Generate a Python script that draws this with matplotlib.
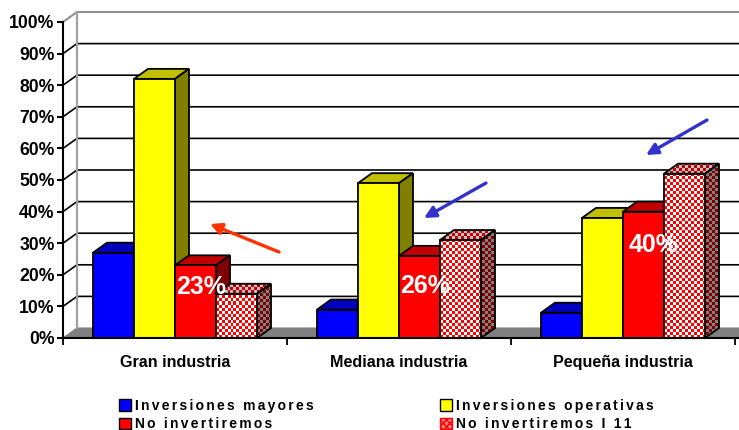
import numpy as np
import matplotlib
matplotlib.use('Agg')
import matplotlib.pyplot as plt
from matplotlib.patches import Polygon, Patch
from matplotlib.ticker import FuncFormatter

plt.rcParams['font.family'] = ['Liberation Sans', 'DejaVu Sans']

categorias = ['Gran industria', 'Mediana industria', 'Pequeña industria']
series = ['Inversiones mayores', 'Inversiones operativas', 'No invertiremos', 'No invertiremos I 11']
mayores = [27, 9, 8]
operativas = [82, 49, 38]
no_invertiremos = [23, 26, 40]
no_invertiremos_11 = [14, 31, 52]
valores = [mayores, operativas, no_invertiremos, no_invertiremos_11]
pct_ticks = list(range(0, 101, 10))

# frente, arriba, lado
colores = [('#0000ff', '#0000c0', '#000080'),
           ('#ffff00', '#c0c000', '#808000'),
           ('#ff0000', '#c00000', '#800000'),
           (None, None, None)]

W, H = 739, 430
PX_X = 224.0   # pixeles por categoria
PX_Y = 3.16    # pixeles por 1%
dx = 14 / PX_X
dy = 10 / PX_Y
ancho = 41 / PX_X
inicio = 30 / PX_X

fig = plt.figure(figsize=(W / 100, H / 100), dpi=100)
ax = fig.add_axes([63 / W, (H - 338) / H, (W - 63) / W, 338 / H])
xmax = (W - 63) / PX_X
ymax = 338 / PX_Y
ax.patch.set_alpha(0)


def tablero(c1, c2, zorder, clip):
    # cuadritos de 3 px, como el relleno del grafico original
    yy, xx = np.indices((338 // 3 + 1, (W - 63) // 3 + 1))
    celdas = (xx + yy) % 2
    rgb = np.array([matplotlib.colors.to_rgb(c1), matplotlib.colors.to_rgb(c2)])[celdas]
    im = ax.imshow(rgb, extent=[0, xmax, 0, ymax], aspect='auto', interpolation='nearest',
                   origin='lower', zorder=zorder)
    im.set_clip_path(clip)


# piso y paredes
ax.add_patch(Polygon([(0, 0), (dx, dy), (xmax + 1, dy), (xmax + 1, 0)], fc='#808080', ec='#808080', lw=0.8, zorder=1))
for p in pct_ticks[1:]:
    col = '#909090' if p == 100 else 'black'
    ax.plot([0, dx, xmax], [p, p + dy, p + dy], color=col, lw=1.5 if p == 100 else 1.2, zorder=1, clip_on=False)
ax.plot([dx, dx], [dy, 100 + dy], color='#a0a0a0', lw=1.6, zorder=1.5)

z = 3
for g in range(len(categorias)):
    for s in range(len(series)):
        v = valores[s][g]
        x0 = g + inicio + s * ancho
        x1 = x0 + ancho
        frente, arriba, lado = colores[s]
        top = Polygon([(x0, v), (x0 + dx, v + dy), (x1 + dx, v + dy), (x1, v)], closed=True,
                      ec='black', lw=1.3, zorder=z + 0.2)
        side = Polygon([(x1, 0), (x1 + dx, dy), (x1 + dx, v + dy), (x1, v)], closed=True,
                       ec='black', lw=1.3, zorder=z + 0.2)
        barra = ax.bar(x0, v, ancho, align='edge', edgecolor='black', linewidth=1.3, zorder=z + 0.4,
                       color=frente if frente else 'none')[0]
        if frente:
            top.set_facecolor(arriba)
            side.set_facecolor(lado)
            ax.add_patch(top)
            ax.add_patch(side)
        else:
            top.set_facecolor('none')
            side.set_facecolor('none')
            ax.add_patch(top)
            ax.add_patch(side)
            tablero('#c00000', '#c0c0c0', z + 0.1, top)
            tablero('#800000', '#808080', z + 0.1, side)
            tablero('#ff0000', '#ffffff', z + 0.3, barra)
        z += 1

ax.set_xlim(0, xmax)
ax.set_ylim(0, ymax)

# ejes
for lado in ['top', 'right']:
    ax.spines[lado].set_visible(False)
ax.spines['left'].set_bounds(0, 100)
ax.spines['left'].set_linewidth(1.5)
ax.spines['bottom'].set_linewidth(1.5)
ax.spines['left'].set_zorder(30)
ax.spines['bottom'].set_zorder(30)
ax.set_yticks(pct_ticks)
ax.yaxis.set_major_formatter(FuncFormatter(lambda p, _: '%d%%' % p))
ax.tick_params(axis='y', length=4, width=1.5, pad=2, labelsize=12.7)
for t in ax.get_yticklabels():
    t.set_fontweight('bold')
ax.set_xticks([0, 1, 2, 3])
ax.set_xticklabels([])
ax.set_xticks([0.5, 1.5, 2.5], minor=True)
ax.set_xticklabels(categorias, minor=True, fontweight='bold', fontsize=11.6)
ax.tick_params(axis='x', which='major', length=5, width=1.3)
ax.tick_params(axis='x', which='minor', length=0, pad=12)

# porcentajes sobre la barra roja
etiquetas_x = [0.615, 1.615, 2.635]
etiquetas_y = [16, 16.5, 29.5]
for i in range(3):
    ax.text(etiquetas_x[i], etiquetas_y[i], '%d%%' % no_invertiremos[i], color='white', fontsize=18,
            fontweight='bold', ha='center', va='center', zorder=40)

# flechas
flechas = [((279, 252), (210, 224), '#ff3300'),
           ((486, 183), (424, 218), '#3333cc'),
           ((707, 120), (646, 155), '#3333cc')]
for a, b, col in flechas:
    ax.annotate('', xy=(b[0], H - b[1]), xytext=(a[0], H - a[1]), xycoords='figure pixels',
                textcoords='figure pixels', zorder=41,
                arrowprops=dict(arrowstyle='-|>', color=col, lw=2.4, shrinkA=0, shrinkB=0, mutation_scale=17))

# leyenda, letras separadas con hair space como en el original
def espaciado(s):
    return '\u200a\u200a'.join(s)

handles = [Patch(fc='#0000ff', ec='black'), Patch(fc='#ff0000', ec='black'),
           Patch(fc='#ffff00', ec='black'), Patch(fc='#ff8080', ec='#ff0000', hatch='xxxxx')]
labels = [series[0], series[2], series[1], series[3]]
fig.legend(handles, [espaciado(l) for l in labels], ncol=2, frameon=False,
           loc='lower left', bbox_to_anchor=(109 / W, -11 / H), prop=dict(weight='bold', size=10),
           handlelength=0.85, handleheight=0.85, handletextpad=0.3, columnspacing=9.1, labelspacing=0.32,
           borderpad=0.2)

fig.savefig('out.png', dpi=100)
